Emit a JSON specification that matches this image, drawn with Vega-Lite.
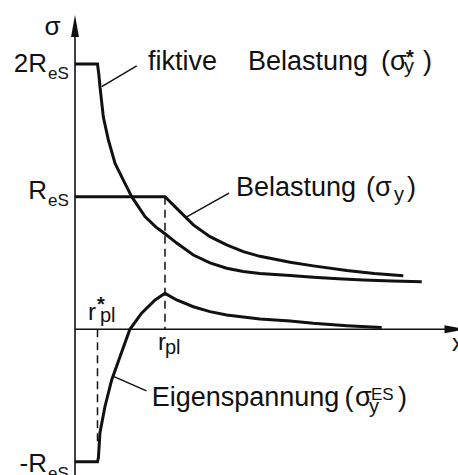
{
  "$schema": "https://vega.github.io/schema/vega-lite/v6.json",
  "width": 458,
  "height": 475,
  "autosize": {"type": "none"},
  "padding": 0,
  "background": "white",
  "config": {
    "view": {"stroke": null},
    "text": {"font": "Liberation Sans", "color": "#111", "baseline": "alphabetic", "align": "left"}
  },
  "datasets": {
    "curves": [
      {"series": "fiktiv", "r": 0, "s": 2},
      {"series": "fiktiv", "r": 1.0, "s": 2},
      {"series": "fiktiv", "r": 1.06, "s": 1.92},
      {"series": "fiktiv", "r": 1.11, "s": 1.83},
      {"series": "fiktiv", "r": 1.26, "s": 1.6},
      {"series": "fiktiv", "r": 1.48, "s": 1.43},
      {"series": "fiktiv", "r": 1.78, "s": 1.25},
      {"series": "fiktiv", "r": 2.22, "s": 1.1},
      {"series": "fiktiv", "r": 2.52, "s": 1.0},
      {"series": "fiktiv", "r": 3.11, "s": 0.85},
      {"series": "fiktiv", "r": 3.6, "s": 0.77},
      {"series": "fiktiv", "r": 4.0, "s": 0.72},
      {"series": "fiktiv", "r": 4.52, "s": 0.65},
      {"series": "fiktiv", "r": 5.26, "s": 0.56},
      {"series": "fiktiv", "r": 6.0, "s": 0.5},
      {"series": "fiktiv", "r": 6.74, "s": 0.46},
      {"series": "fiktiv", "r": 7.48, "s": 0.435},
      {"series": "fiktiv", "r": 8.22, "s": 0.42},
      {"series": "fiktiv", "r": 9.56, "s": 0.405},
      {"series": "fiktiv", "r": 10.59, "s": 0.392},
      {"series": "fiktiv", "r": 11.7, "s": 0.381},
      {"series": "fiktiv", "r": 12.81, "s": 0.372},
      {"series": "fiktiv", "r": 14.1, "s": 0.364},
      {"series": "fiktiv", "r": 15.41, "s": 0.358},
      {"series": "belastung", "r": 0, "s": 1},
      {"series": "belastung", "r": 4.0, "s": 1},
      {"series": "belastung", "r": 4.52, "s": 0.912},
      {"series": "belastung", "r": 5.26, "s": 0.787},
      {"series": "belastung", "r": 6.0, "s": 0.698},
      {"series": "belastung", "r": 6.74, "s": 0.636},
      {"series": "belastung", "r": 7.48, "s": 0.585},
      {"series": "belastung", "r": 8.22, "s": 0.55},
      {"series": "belastung", "r": 9.56, "s": 0.505},
      {"series": "belastung", "r": 10.59, "s": 0.478},
      {"series": "belastung", "r": 12.08, "s": 0.443},
      {"series": "belastung", "r": 13.3, "s": 0.421},
      {"series": "belastung", "r": 14.59, "s": 0.404},
      {"series": "eigen", "r": 0, "s": -1},
      {"series": "eigen", "r": 1.0, "s": -1},
      {"series": "eigen", "r": 1.04, "s": -0.97},
      {"series": "eigen", "r": 1.11, "s": -0.78},
      {"series": "eigen", "r": 1.33, "s": -0.584},
      {"series": "eigen", "r": 1.63, "s": -0.382},
      {"series": "eigen", "r": 2.0, "s": -0.207},
      {"series": "eigen", "r": 2.44, "s": 0.0},
      {"series": "eigen", "r": 2.96, "s": 0.121},
      {"series": "eigen", "r": 3.56, "s": 0.221},
      {"series": "eigen", "r": 4.0, "s": 0.271},
      {"series": "eigen", "r": 4.52, "s": 0.221},
      {"series": "eigen", "r": 5.26, "s": 0.17},
      {"series": "eigen", "r": 6.0, "s": 0.133},
      {"series": "eigen", "r": 6.74, "s": 0.108},
      {"series": "eigen", "r": 8.22, "s": 0.078},
      {"series": "eigen", "r": 9.56, "s": 0.063},
      {"series": "eigen", "r": 10.59, "s": 0.045},
      {"series": "eigen", "r": 12.08, "s": 0.027},
      {"series": "eigen", "r": 13.63, "s": 0.014}
    ],
    "guides": [
      {"kind": "axis", "r": 0, "s": 2.3, "r2": 0, "s2": -1.099},
      {"kind": "axis", "r": 0, "s": 0, "r2": 16.8, "s2": 0},
      {"kind": "dash", "r": 1.0, "s": 0, "r2": 1.0, "s2": -0.85},
      {"kind": "dash", "r": 4.0, "s": 1.0, "r2": 4.0, "s2": 0},
      {"kind": "leader", "r": 1.187, "s": 1.83, "r2": 2.742, "s2": 1.986},
      {"kind": "leader", "r": 4.964, "s": 0.847, "r2": 6.844, "s2": 1.026},
      {"kind": "leader", "r": 1.733, "s": -0.357, "r2": 3.178, "s2": -0.465}
    ],
    "arrows": [
      {"dir": "up", "r": 0, "s": 2.37},
      {"dir": "right", "r": 17.4, "s": 0}
    ],
    "labels": [
      {"kind": "title", "r": -1.0, "s": 2.219, "text": "σ"},
      {"kind": "level", "r": -1.244, "s": 1.94, "text": "2R"},
      {"kind": "level", "r": -1.244, "s": 0.983, "text": "R"},
      {"kind": "level", "r": -1.244, "s": -1.076, "text": "-R"},
      {"kind": "levelsub", "r": -1.2, "s": 1.888, "text": "eS"},
      {"kind": "levelsub", "r": -1.2, "s": 0.93, "text": "eS"},
      {"kind": "levelsub", "r": -1.2, "s": -1.129, "text": "eS"},
      {"kind": "word", "r": 3.244, "s": 1.956, "text": "fiktive"},
      {"kind": "word", "r": 7.689, "s": 1.956, "text": "Belastung"},
      {"kind": "word", "r": 13.6, "s": 1.956, "text": "("},
      {"kind": "word", "r": 14.0, "s": 1.956, "text": "σ"},
      {"kind": "star", "r": 14.711, "s": 2.004, "text": "*"},
      {"kind": "sub", "r": 14.622, "s": 1.93, "text": "y"},
      {"kind": "word", "r": 15.467, "s": 1.956, "text": ")"},
      {"kind": "word", "r": 7.156, "s": 1.005, "text": "Belastung"},
      {"kind": "word", "r": 12.933, "s": 1.005, "text": "("},
      {"kind": "word", "r": 13.333, "s": 1.005, "text": "σ"},
      {"kind": "sub", "r": 14.178, "s": 0.967, "text": "y"},
      {"kind": "word", "r": 14.756, "s": 1.005, "text": ")"},
      {"kind": "word", "r": 3.409, "s": -0.578, "text": "Eigenspannung"},
      {"kind": "word", "r": 11.978, "s": -0.578, "text": "("},
      {"kind": "word", "r": 12.444, "s": -0.578, "text": "σ"},
      {"kind": "sup", "r": 13.156, "s": -0.534, "text": "ES"},
      {"kind": "sub", "r": 13.067, "s": -0.631, "text": "y"},
      {"kind": "word", "r": 14.356, "s": -0.578, "text": ")"},
      {"kind": "small", "r": 0.578, "s": 0.07, "text": "r"},
      {"kind": "star", "r": 0.978, "s": 0.136, "text": "*"},
      {"kind": "sub", "r": 1.111, "s": 0.055, "text": "pl"},
      {"kind": "small", "r": 3.689, "s": -0.156, "text": "r"},
      {"kind": "sub", "r": 4.0, "s": -0.186, "text": "pl"},
      {"kind": "small", "r": 16.756, "s": -0.164, "text": "x"}
    ]
  },
  "encoding": {
    "x": {"field": "r", "type": "quantitative", "scale": {"domain": [-3.333, 17.022], "nice": false, "zero": false}, "axis": null},
    "y": {"field": "s", "type": "quantitative", "scale": {"domain": [-1.099, 2.483], "nice": false, "zero": false}, "axis": null}
  },
  "layer": [
    {
      "data": {"name": "guides"},
      "transform": [{"filter": "datum.kind === 'axis'"}],
      "mark": {"type": "rule", "color": "#111", "strokeWidth": 1.6},
      "encoding": {"x2": {"field": "r2"}, "y2": {"field": "s2"}}
    },
    {
      "data": {"name": "guides"},
      "transform": [{"filter": "datum.kind === 'dash'"}],
      "mark": {"type": "rule", "color": "#111", "strokeWidth": 1.5, "strokeDash": [8, 5]},
      "encoding": {"x2": {"field": "r2"}, "y2": {"field": "s2"}}
    },
    {
      "data": {"name": "guides"},
      "transform": [{"filter": "datum.kind === 'leader'"}],
      "mark": {"type": "rule", "color": "#111", "strokeWidth": 1.5},
      "encoding": {"x2": {"field": "r2"}, "y2": {"field": "s2"}}
    },
    {
      "data": {"name": "curves"},
      "mark": {"type": "line", "color": "#111", "strokeWidth": 3, "interpolate": "linear"},
      "encoding": {"detail": {"field": "series"}, "order": {"field": "r", "type": "quantitative"}}
    },
    {
      "data": {"name": "arrows"},
      "mark": {"type": "point", "filled": true, "color": "#111", "opacity": 1, "size": 484},
      "encoding": {
        "shape": {
          "field": "dir",
          "scale": {"domain": ["up", "right"], "range": ["M0,0L0.36,2L-0.36,2Z", "M0,0L-2,0.36L-2,-0.36Z"]},
          "legend": null
        }
      }
    },
    {
      "data": {"name": "labels"},
      "transform": [{"filter": "datum.kind === 'title'"}],
      "mark": {"type": "text", "fontSize": 26, "align": "center"},
      "encoding": {"text": {"field": "text"}}
    },
    {
      "data": {"name": "labels"},
      "transform": [{"filter": "datum.kind === 'level'"}],
      "mark": {"type": "text", "fontSize": 26, "align": "right"},
      "encoding": {"text": {"field": "text"}}
    },
    {
      "data": {"name": "labels"},
      "transform": [{"filter": "datum.kind === 'levelsub'"}],
      "mark": {"type": "text", "fontSize": 17},
      "encoding": {"text": {"field": "text"}}
    },
    {
      "data": {"name": "labels"},
      "transform": [{"filter": "datum.kind === 'word'"}],
      "mark": {"type": "text", "fontSize": 27},
      "encoding": {"text": {"field": "text"}}
    },
    {
      "data": {"name": "labels"},
      "transform": [{"filter": "datum.kind === 'small'"}],
      "mark": {"type": "text", "fontSize": 24},
      "encoding": {"text": {"field": "text"}}
    },
    {
      "data": {"name": "labels"},
      "transform": [{"filter": "datum.kind === 'sub'"}],
      "mark": {"type": "text", "fontSize": 20},
      "encoding": {"text": {"field": "text"}}
    },
    {
      "data": {"name": "labels"},
      "transform": [{"filter": "datum.kind === 'sup'"}],
      "mark": {"type": "text", "fontSize": 17},
      "encoding": {"text": {"field": "text"}}
    },
    {
      "data": {"name": "labels"},
      "transform": [{"filter": "datum.kind === 'star'"}],
      "mark": {"type": "text", "fontSize": 20, "fontWeight": "bold"},
      "encoding": {"text": {"field": "text"}}
    }
  ]
}
